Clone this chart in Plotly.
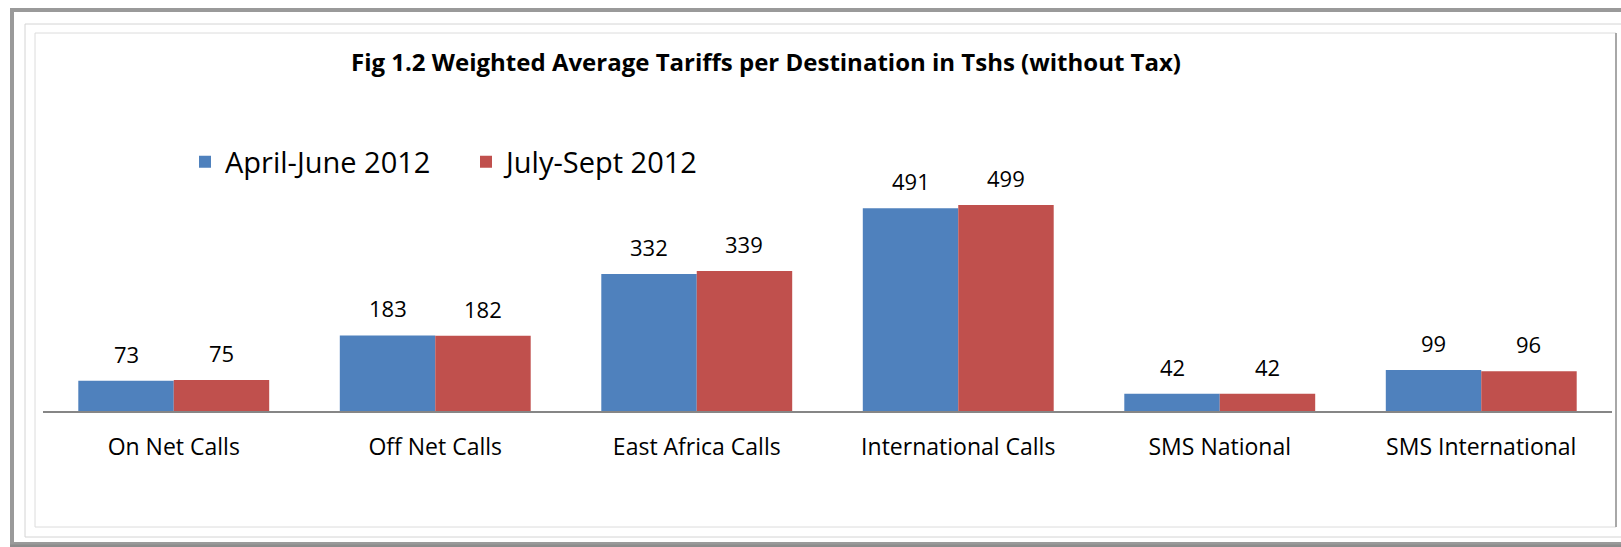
import plotly.graph_objects as go

# Chart data
destinations = ["On Net Calls", "Off Net Calls", "East Africa Calls",
                "International Calls", "SMS National", "SMS International"]
q2_2012 = [73, 183, 332, 491, 42, 99]
q3_2012 = [75, 182, 339, 499, 42, 96]
series_names = ["April-June 2012", "July-Sept 2012"]
colors = ["#4F81BD", "#C0504D"]

W, H = 1621, 547
ML, MR, MT, MB = 43, 9, 100, 136
PW, PH = W - ML - MR, H - MT - MB
BARGAP = 0.27

FONT = "Open Sans"


def px(x):
    # page pixel -> paper x
    return (x - ML) / PW


def py(y):
    # page pixel -> paper y
    return (H - MB - y) / PH


fig = go.Figure()

for name, vals, col in zip(series_names, [q2_2012, q3_2012], colors):
    fig.add_trace(go.Bar(x=destinations, y=vals, name=name,
                         marker=dict(color=col, line=dict(width=0))))

# data labels sit above the middle of each bar of the group
half_bar = PW / len(destinations) * (1 - BARGAP) / 4
for k, vals in enumerate([q2_2012, q3_2012]):
    for cat, v in zip(destinations, vals):
        fig.add_annotation(x=cat, y=v, text=str(v), showarrow=False,
                           xshift=(2 * k - 1) * half_bar, yshift=27,
                           yanchor="middle",
                           font=dict(family=FONT, size=22, color="black"))

# picture-frame border around the chart
frame = [
    dict(x0=12, y0=10, x1=1632, y1=544, color="#9a9a9a", width=4),
    dict(x0=25, y0=24, x1=1632, y1=537, color="#d4d4d4", width=1),
    dict(x0=35, y0=33, x1=1616, y1=527, color="#dcdcdc", width=1),
]
for f in frame:
    fig.add_shape(type="rect", xref="paper", yref="paper",
                  x0=px(f["x0"]), x1=px(f["x1"]), y0=py(f["y0"]), y1=py(f["y1"]),
                  line=dict(color=f["color"], width=f["width"]), layer="below")
fig.add_shape(type="line", xref="paper", yref="paper",
              x0=px(1616), x1=px(1616), y0=py(33), y1=py(527),
              line=dict(color="#a8a8a8", width=2), layer="below")
fig.add_shape(type="line", xref="paper", yref="paper",
              x0=px(10), x1=px(1632), y0=py(546), y1=py(546),
              line=dict(color="#8c8c8c", width=3), layer="below")

fig.update_layout(
    width=W, height=H,
    margin=dict(l=ML, r=MR, t=MT, b=MB),
    paper_bgcolor="white", plot_bgcolor="white",
    barmode="group", bargap=BARGAP, bargroupgap=0,
    font=dict(family=FONT, color="black"),
    title=dict(
        text="<b>Fig 1.2 Weighted Average Tariffs per Destination in Tshs (without Tax)</b>",
        font=dict(family=FONT, size=24, color="black"),
        xref="container", yref="container",
        x=766 / W, xanchor="center", y=1 - 63 / H, yanchor="middle",
    ),
    legend=dict(
        orientation="h", x=px(185), xanchor="left", y=py(162), yanchor="middle",
        font=dict(family=FONT, size=29, color="black"),
        entrywidth=236, bgcolor="rgba(0,0,0,0)",
    ),
    xaxis=dict(
        showline=True, linecolor="#868686", linewidth=2,
        showgrid=False, zeroline=False, ticks="",
        tickfont=dict(family=FONT, size=23, color="black"),
        ticklabelstandoff=14,
    ),
    yaxis=dict(
        range=[0, PH / 0.413], visible=False, showgrid=False, zeroline=False,
    ),
)

fig.write_html("out.html", config={"displayModeBar": False},
               post_script="document.body.style.margin = '0';")
